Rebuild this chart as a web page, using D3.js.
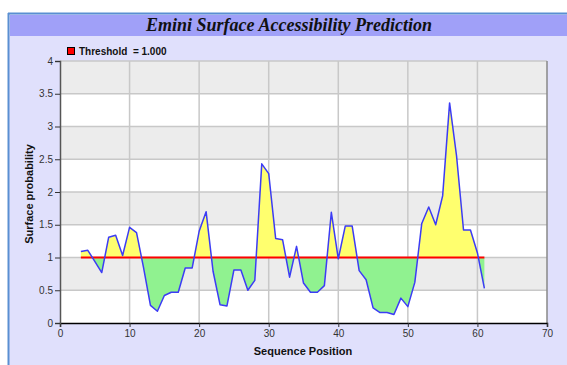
<!DOCTYPE html>
<html>
<head>
<meta charset="utf-8">
<script src="https://cdn.jsdelivr.net/npm/d3@7"></script>
<style>
    body { margin: 0; background: #ffffff; }
    svg { display: block; }
</style>
</head>
<body>
<div id="chart"></div>
<script>
//Datos
const positions = [3, 4, 5, 6, 7, 8, 9, 10, 11, 12, 13, 14, 15, 16, 17, 18, 19, 20, 21, 22,
    23, 24, 25, 26, 27, 28, 29, 30, 31, 32, 33, 34, 35, 36, 37, 38, 39, 40, 41, 42,
    43, 44, 45, 46, 47, 48, 49, 50, 51, 52, 53, 54, 55, 56, 57, 58, 59, 60, 61];
const surface = [1.09, 1.11, 0.94, 0.77, 1.31, 1.34, 1.03, 1.46, 1.38, 0.85, 0.27, 0.18, 0.42, 0.47, 0.47, 0.84, 0.84, 1.40, 1.70, 0.79,
    0.28, 0.26, 0.81, 0.81, 0.50, 0.65, 2.43, 2.28, 1.29, 1.27, 0.70, 1.17, 0.61, 0.47, 0.47, 0.57, 1.69, 0.98, 1.48, 1.48,
    0.80, 0.66, 0.23, 0.16, 0.16, 0.13, 0.38, 0.25, 0.62, 1.52, 1.77, 1.50, 1.94, 3.36, 2.55, 1.42, 1.42, 1.07, 0.53];
const threshold = 1.0;
const xTicks = [0, 10, 20, 30, 40, 50, 60, 70];
const yTicks = [0, 0.5, 1, 1.5, 2, 2.5, 3, 3.5, 4];

//Colores fijos
const COLOR_LINE = '#3c3cf5',
COLOR_ABOVE = '#ffff6e',
COLOR_BELOW = '#90f290',
COLOR_THRESHOLD = '#ff0000';

let data = positions.map(function(p, i) { return { pos: p, value: surface[i] }; });

let W = 567, H = 365;
let svg = d3.select('#chart')
    .append('svg')
        .attr('width', W)
        .attr('height', H);

//Marco y cabecera
svg.append('rect')
    .attr('x', 8).attr('y', 13)
    .attr('width', W - 8).attr('height', H - 13)
    .attr('fill', '#e0e0fc');
svg.append('rect')
    .attr('x', 10).attr('y', 15)
    .attr('width', W - 10).attr('height', 21)
    .attr('fill', '#a0a0f8');
svg.append('line')
    .attr('x1', 8.5).attr('x2', 8.5).attr('y1', 13).attr('y2', H)
    .attr('stroke', '#5a8fd2').attr('stroke-width', 2);
svg.append('line')
    .attr('x1', 8).attr('x2', W).attr('y1', 13.5).attr('y2', 13.5)
    .attr('stroke', '#5a8fd2').attr('stroke-width', 2);

svg.append('text')
    .attr('x', 289).attr('y', 31)
    .attr('text-anchor', 'middle')
    .style('font-family', '"Liberation Serif", "Times New Roman", serif')
    .style('font-size', '18px')
    .style('font-weight', 'bold')
    .style('font-style', 'italic')
    .attr('fill', '#111')
    .text('Emini Surface Accessibility Prediction');

//Escalas
let x = d3.scaleLinear().domain([0, 70]).range([60, 547]);
let y = d3.scaleLinear().domain([0, 4]).range([323, 61]);

let plot = svg.append('g');

//Bandas de fondo
plot.selectAll('.band')
    .data(yTicks.slice(0, -1))
    .enter()
    .append('rect')
    .attr('x', x(0))
    .attr('y', function(d) { return y(d + 0.5); })
    .attr('width', x(70) - x(0))
    .attr('height', function(d) { return y(d) - y(d + 0.5); })
    .attr('fill', function(d, i) { return i % 2 == 1 ? '#ececec' : '#ffffff'; });

//Rejilla
plot.selectAll('.hgrid')
    .data(yTicks.slice(1))
    .enter()
    .append('line')
    .attr('x1', x(0)).attr('x2', x(70))
    .attr('y1', function(d) { return y(d); })
    .attr('y2', function(d) { return y(d); })
    .attr('stroke', '#c8c8c8').attr('stroke-width', 1.5);

plot.selectAll('.vgrid')
    .data(xTicks.slice(1, -1))
    .enter()
    .append('line')
    .attr('x1', function(d) { return x(d); })
    .attr('x2', function(d) { return x(d); })
    .attr('y1', y(0)).attr('y2', y(4))
    .attr('stroke', '#c8c8c8').attr('stroke-width', 1.5);

plot.append('line')
    .attr('x1', x(70)).attr('x2', x(70)).attr('y1', y(0)).attr('y2', y(4))
    .attr('stroke', '#888').attr('stroke-width', 1.5);

//Relleno sobre y bajo el umbral
let defs = svg.append('defs');
defs.append('clipPath').attr('id', 'clip-above')
    .append('rect')
    .attr('x', x(0)).attr('y', y(4))
    .attr('width', x(70) - x(0)).attr('height', y(threshold) - y(4));
defs.append('clipPath').attr('id', 'clip-below')
    .append('rect')
    .attr('x', x(0)).attr('y', y(threshold))
    .attr('width', x(70) - x(0)).attr('height', y(0) - y(threshold));

let area = d3.area()
    .x(function(d) { return x(d.pos); })
    .y0(y(threshold))
    .y1(function(d) { return y(d.value); });

plot.append('path')
    .datum(data)
    .attr('clip-path', 'url(#clip-above)')
    .attr('fill', COLOR_ABOVE)
    .attr('d', area);

plot.append('path')
    .datum(data)
    .attr('clip-path', 'url(#clip-below)')
    .attr('fill', COLOR_BELOW)
    .attr('d', area);

//Umbral
plot.append('line')
    .attr('x1', x(positions[0]))
    .attr('x2', x(positions[positions.length - 1]))
    .attr('y1', y(threshold)).attr('y2', y(threshold))
    .attr('stroke', COLOR_THRESHOLD).attr('stroke-width', 2);

//Serie
plot.append('path')
    .datum(data)
    .attr('fill', 'none')
    .attr('stroke', COLOR_LINE)
    .attr('stroke-width', 1.5)
    .attr('stroke-linejoin', 'round')
    .attr('d', d3.line()
        .x(function(d) { return x(d.pos); })
        .y(function(d) { return y(d.value); })
    );

//Ejes
let xAxis = svg.append('g')
    .attr('transform', 'translate(0,' + y(0) + ')')
    .call(d3.axisBottom(x).tickValues(xTicks).tickSize(4).tickPadding(3));
xAxis.select('.domain').attr('stroke', '#000').attr('stroke-width', 1.5);
xAxis.selectAll('.tick line').attr('stroke', '#333');
xAxis.selectAll('text')
    .style('font-family', 'Arial, "Liberation Sans", sans-serif')
    .style('font-size', '10px')
    .attr('fill', '#333');

let yAxis = svg.append('g')
    .attr('transform', 'translate(' + x(0) + ',0)')
    .call(d3.axisLeft(y).tickValues(yTicks).tickSize(5).tickPadding(2).tickFormat(d3.format('')));
yAxis.select('.domain').attr('stroke', '#555').attr('stroke-width', 1.5);
yAxis.selectAll('.tick line').attr('stroke', '#333');
yAxis.selectAll('text')
    .style('font-family', 'Arial, "Liberation Sans", sans-serif')
    .style('font-size', '10px')
    .attr('fill', '#333');

//Títulos de ejes
svg.append('text')
    .attr('x', 303).attr('y', 355)
    .attr('text-anchor', 'middle')
    .style('font-family', 'Arial, "Liberation Sans", sans-serif')
    .style('font-size', '11px')
    .style('font-weight', 'bold')
    .attr('fill', '#111')
    .text('Sequence Position');

svg.append('text')
    .attr('transform', 'translate(33,194) rotate(-90)')
    .attr('text-anchor', 'middle')
    .style('font-family', 'Arial, "Liberation Sans", sans-serif')
    .style('font-size', '11px')
    .style('font-weight', 'bold')
    .attr('fill', '#111')
    .text('Surface probability');

//Leyenda
svg.append('rect')
    .attr('x', 67.5).attr('y', 47.5)
    .attr('width', 7).attr('height', 7)
    .attr('fill', COLOR_THRESHOLD)
    .attr('stroke', '#000').attr('stroke-width', 1);
svg.append('text')
    .attr('x', 79).attr('y', 55)
    .style('font-family', 'Arial, "Liberation Sans", sans-serif')
    .style('font-size', '10px')
    .style('font-weight', 'bold')
    .style('white-space', 'pre')
    .attr('fill', '#111')
    .text('Threshold  = 1.000');
</script>
</body>
</html>
